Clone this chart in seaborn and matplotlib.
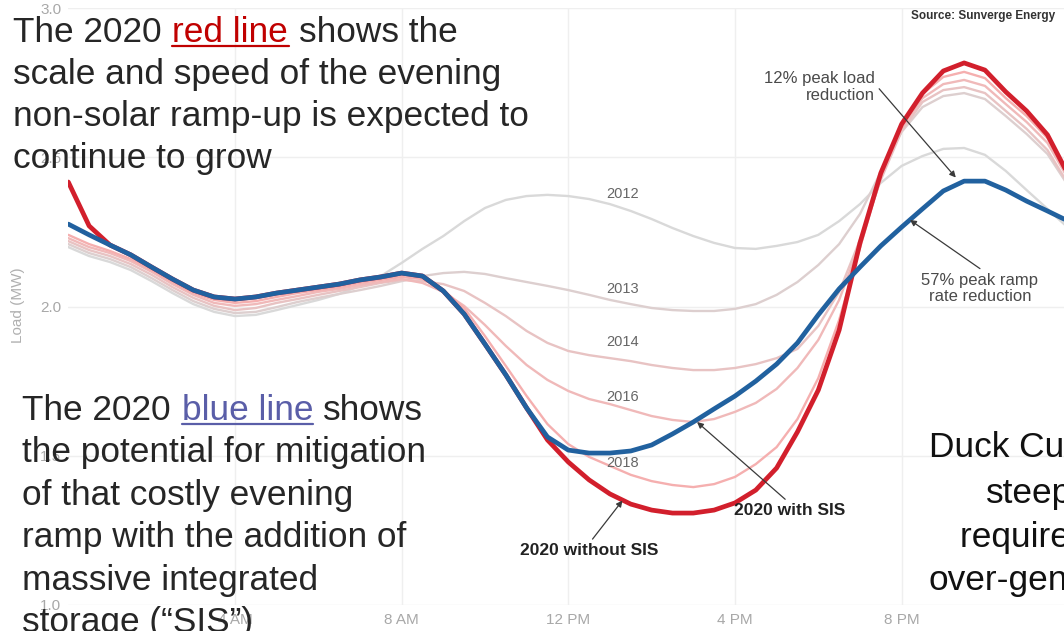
import matplotlib
matplotlib.use("Agg")
import matplotlib.pyplot as plt
import seaborn as sns
import pandas as pd
from matplotlib.lines import Line2D

# ---- data: hourly load profile (MW), sampled every half hour from midnight ----
hours = [i * 0.5 for i in range(49)]

load_2012 = [2.199, 2.169, 2.149, 2.122, 2.085, 2.045, 2.008, 1.982, 1.968, 1.972,
             1.988, 2.005, 2.022, 2.042, 2.069, 2.102, 2.146, 2.193, 2.236, 2.286,
             2.330, 2.357, 2.370, 2.374, 2.370, 2.360, 2.343, 2.320, 2.293, 2.263,
             2.236, 2.213, 2.196, 2.193, 2.203, 2.216, 2.240, 2.286, 2.343, 2.414,
             2.471, 2.504, 2.528, 2.531, 2.508, 2.454, 2.390, 2.327, 2.263]
load_2013 = [2.209, 2.179, 2.159, 2.132, 2.095, 2.055, 2.018, 1.992, 1.978, 1.982,
             1.998, 2.015, 2.029, 2.042, 2.055, 2.069, 2.085, 2.102, 2.112, 2.116,
             2.109, 2.095, 2.082, 2.069, 2.055, 2.039, 2.022, 2.008, 1.995, 1.988,
             1.985, 1.985, 1.992, 2.008, 2.039, 2.082, 2.139, 2.209, 2.310, 2.451,
             2.585, 2.668, 2.705, 2.715, 2.695, 2.638, 2.578, 2.511, 2.404]
load_2014 = [2.219, 2.189, 2.169, 2.142, 2.106, 2.065, 2.029, 2.002, 1.988, 1.995,
             2.012, 2.025, 2.039, 2.052, 2.065, 2.079, 2.089, 2.085, 2.075, 2.052,
             2.012, 1.968, 1.918, 1.878, 1.851, 1.837, 1.827, 1.817, 1.804, 1.794,
             1.787, 1.787, 1.794, 1.807, 1.827, 1.858, 1.935, 2.049, 2.223, 2.424,
             2.588, 2.685, 2.725, 2.735, 2.715, 2.655, 2.595, 2.524, 2.410]
load_2016 = [2.229, 2.199, 2.179, 2.152, 2.116, 2.075, 2.039, 2.012, 2.002, 2.008,
             2.022, 2.035, 2.049, 2.059, 2.072, 2.082, 2.092, 2.079, 2.049, 2.002,
             1.938, 1.868, 1.804, 1.754, 1.717, 1.690, 1.673, 1.653, 1.633, 1.620,
             1.613, 1.623, 1.647, 1.677, 1.724, 1.794, 1.888, 2.022, 2.209, 2.430,
             2.598, 2.698, 2.745, 2.759, 2.739, 2.678, 2.618, 2.548, 2.427]
load_2018 = [2.240, 2.209, 2.186, 2.159, 2.122, 2.082, 2.045, 2.022, 2.012, 2.018,
             2.032, 2.045, 2.055, 2.065, 2.079, 2.089, 2.099, 2.092, 2.055, 1.995,
             1.901, 1.801, 1.700, 1.606, 1.539, 1.496, 1.466, 1.436, 1.415, 1.402,
             1.395, 1.405, 1.429, 1.472, 1.529, 1.623, 1.760, 1.955, 2.196, 2.437,
             2.608, 2.712, 2.769, 2.786, 2.765, 2.698, 2.638, 2.564, 2.437]
load_2020_without_sis = [2.417, 2.270, 2.206, 2.173, 2.132, 2.092, 2.055, 2.032, 2.025, 2.032,
                         2.045, 2.055, 2.065, 2.075, 2.089, 2.099, 2.112, 2.102, 2.052, 1.975,
                         1.874, 1.771, 1.660, 1.553, 1.479, 1.419, 1.372, 1.338, 1.318, 1.308,
                         1.308, 1.318, 1.342, 1.385, 1.459, 1.580, 1.720, 1.921, 2.213, 2.447,
                         2.611, 2.715, 2.789, 2.816, 2.792, 2.719, 2.655, 2.575, 2.441]
load_2020_with_sis = [2.276, 2.240, 2.206, 2.173, 2.132, 2.092, 2.055, 2.032, 2.025, 2.032,
                      2.045, 2.055, 2.065, 2.075, 2.089, 2.099, 2.112, 2.102, 2.052, 1.975,
                      1.874, 1.771, 1.660, 1.563, 1.519, 1.509, 1.509, 1.516, 1.536, 1.573,
                      1.613, 1.657, 1.700, 1.750, 1.807, 1.878, 1.972, 2.059, 2.132, 2.203,
                      2.266, 2.327, 2.387, 2.420, 2.420, 2.390, 2.353, 2.320, 2.286]

history_years = ["2012", "2013", "2014", "2016", "2018"]
history_loads = [load_2012, load_2013, load_2014, load_2016, load_2018]
history_colors = ["#d9d9d9", "#ddcfcf", "#e8c3c3", "#f0b9b9", "#f5afaf"]
year_label_pos = [(13.3, 2.377), (13.3, 2.059), (13.3, 1.881), (13.3, 1.697), (13.3, 1.476)]

x_ticks = [4, 8, 12, 16, 20]
x_tick_labels = ["4 AM", "8 AM", "12 PM", "4 PM", "8 PM"]
y_ticks = [1.0, 1.5, 2.0, 2.5, 3.0]

W, H = 1064, 631

sns.set_theme(style="white")
plt.rcParams["font.family"] = ["Liberation Sans", "DejaVu Sans"]

fig = plt.figure(figsize=(W / 100, H / 100), dpi=100)
ax = fig.add_axes([68.3 / W, 26 / H, 1000 / W, 597 / H])

# historical load curves
for yr, vals, col in zip(history_years, history_loads, history_colors):
    sns.lineplot(x=hours, y=vals, color=col, linewidth=1.7, ax=ax,
                 solid_joinstyle="round", solid_capstyle="round")

# 2020 projections
sns.lineplot(x=hours, y=load_2020_without_sis, color="#d21f2c", linewidth=3.4, ax=ax,
             solid_joinstyle="round")
sns.lineplot(x=hours, y=load_2020_with_sis, color="#21619f", linewidth=3.4, ax=ax,
             solid_joinstyle="round")

ax.set_xlim(0, 24)
ax.set_ylim(1.0, 3.0)
ax.set_xticks(x_ticks)
ax.set_xticklabels(x_tick_labels)
ax.set_yticks(y_ticks)
ax.set_yticklabels([f"{v:.1f}" for v in y_ticks])
ax.tick_params(axis="both", length=0, labelsize=11, labelcolor="#a8a8a8")
ax.tick_params(axis="x", pad=6)
ax.tick_params(axis="y", pad=5)
ax.grid(True, color="#efefef", linewidth=1)
ax.set_axisbelow(True)
for s in ax.spines.values():
    s.set_visible(False)
ax.set_xlabel("")
ax.set_ylabel("")
fig.text(18 / W, 1 - 305 / H, "Load (MW)", rotation=90, ha="center", va="center",
         fontsize=11, color="#b0b0b0")

# year labels
for yr, (hx, ly) in zip(history_years, year_label_pos):
    ax.text(hx, ly, yr, fontsize=10.5, color="#666666", ha="center", va="center")

arrow = dict(arrowstyle="-|>", color="#3a3a3a", lw=0.9, mutation_scale=9,
             shrinkA=1, shrinkB=0)

ax.annotate("2020 without SIS", xy=(13.3, 1.35), xytext=(12.5, 1.181),
            ha="center", va="center", fontsize=12.5, fontweight="bold", color="#222222",
            arrowprops=dict(arrow, relpos=(0.5, 1.0)))
ax.annotate("2020 with SIS", xy=(15.09, 1.613), xytext=(17.32, 1.315),
            ha="center", va="center", fontsize=12.5, fontweight="bold", color="#222222",
            arrowprops=dict(arrow, relpos=(0.5, 1.0)))
ax.annotate("12% peak load\nreduction", xy=(21.3, 2.432), xytext=(19.36, 2.735),
            ha="right", va="center", multialignment="right", fontsize=12,
            color="#4a4a4a", linespacing=1.15,
            arrowprops=dict(arrow, relpos=(1.0, 0.6)))
ax.annotate("57% peak ramp\nrate reduction", xy=(20.2, 2.29), xytext=(21.88, 2.06),
            ha="center", va="center", multialignment="center", fontsize=12,
            color="#4a4a4a", linespacing=1.15,
            arrowprops=dict(arrow, relpos=(0.55, 1.0)))

fig.text(983 / W, 1 - 16 / H, "Source: Sunverge Energy", ha="center", va="center",
         fontsize=8.5, fontweight="bold", color="#333333")

# ---- slide commentary ----
FS = 25.4
DARK = "#262626"
RED_LINK = "#c00000"
BLUE_LINK = "#5a5ea8"


def put(x, y, s, color=DARK):
    fig.text(x / W, 1 - y / H, s, ha="left", va="baseline", fontsize=FS, color=color)


def underline(x0, x1, y, color):
    fig.add_artist(Line2D([x0 / W, x1 / W], [1 - y / H, 1 - y / H], color=color,
                          lw=1.6, transform=fig.transFigure))


put(13, 42, "The 2020")
put(172, 42, "red line", RED_LINK)
underline(172, 289, 46, RED_LINK)
put(299, 42, "shows the")
put(13, 84, "scale and speed of the evening")
put(13, 126, "non-solar ramp-up is expected to")
put(13, 168, "continue to grow")

put(22, 420, "The 2020")
put(182, 420, "blue line", BLUE_LINK)
underline(182, 313, 424, BLUE_LINK)
put(323, 420, "shows")
put(22, 462, "the potential for mitigation")
put(22, 505, "of that costly evening")
put(22, 547, "ramp with the addition of")
put(22, 590, "massive integrated")
put(22, 632, "storage (\u201cSIS\u201d)")

put(929, 457, "Duck Curve gets", "#111111")
put(986, 503, "steeper,", "#111111")
put(960, 547, "requires more", "#111111")
put(928, 590, "over-generation", "#111111")

fig.savefig("out.png", dpi=100)
